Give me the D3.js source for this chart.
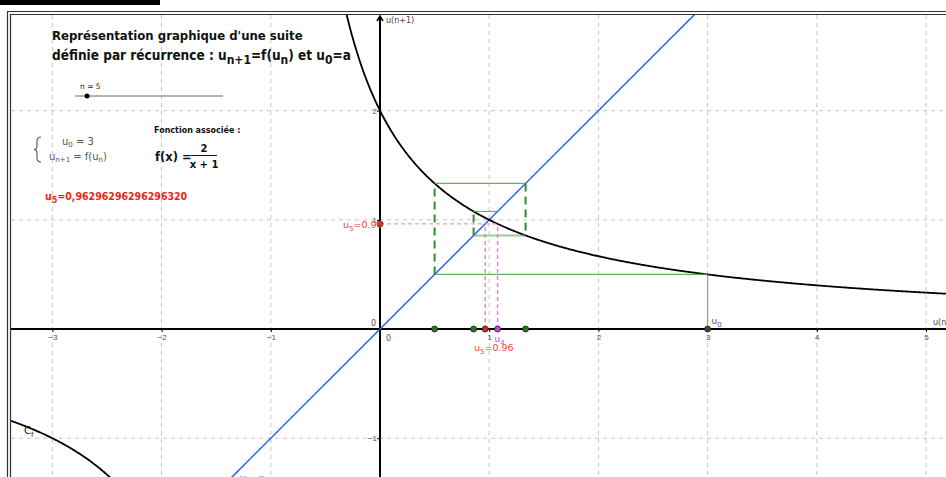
<!DOCTYPE html>
<html>
<head>
<meta charset="utf-8">
<script src="https://cdn.jsdelivr.net/npm/d3@7"></script>
<style>
body { margin: 0; background: #fff; }
svg { display: block; }
</style>
</head>
<body>
<div id="chart"></div>
<script>
// values
const xTicks = [-3, -2, -1, 1, 2, 3, 4, 5];
const yTicks = [-1, 1, 2];
const terms = [3, 0.5, 1.3333, 0.8571, 1.0769, 0.9630]; // u0 .. u5
const termColors = ["#444444", "#1c7c1c", "#1c7c1c", "#1c7c1c", "#cc44cc", "#d8261a"];
const nValue = 5;
const u5Text = "0,96296296296296320";

const width = 946, height = 477;
const f = x => 2 / (x + 1);

const x = d3.scaleLinear().domain([-3.388, 5.183]).range([10, 946]);
const y = d3.scaleLinear().domain([-1.355, 2.885]).range([477, 14]);

const svg = d3.select("#chart").append("svg")
	.attr("width", width)
	.attr("height", height)
	.style("font-family", "'DejaVu Sans', sans-serif");

// top black bar + double frame
svg.append("rect").attr("x", 0).attr("y", 0).attr("width", 160).attr("height", 5).attr("fill", "#000");
svg.append("path").attr("d", "M7.5,477V11.5H946").attr("fill", "none").attr("stroke", "#333").attr("stroke-width", 1.2);
svg.append("path").attr("d", "M10.5,477V14.5H946").attr("fill", "none").attr("stroke", "#333").attr("stroke-width", 1.2);

svg.append("clipPath").attr("id", "clip")
	.append("rect").attr("x", 11).attr("y", 15).attr("width", width - 11).attr("height", height - 15);

const plot = svg.append("g").attr("clip-path", "url(#clip)");

// grid
plot.append("g").selectAll("line").data(xTicks).join("line")
	.attr("x1", d => x(d)).attr("x2", d => x(d))
	.attr("y1", 15).attr("y2", height)
	.attr("stroke", "#c4c4c4").attr("stroke-dasharray", "4,4");
plot.append("g").selectAll("line").data(yTicks).join("line")
	.attr("y1", d => y(d)).attr("y2", d => y(d))
	.attr("x1", 11).attr("x2", width)
	.attr("stroke", "#c4c4c4").attr("stroke-dasharray", "4,4");

// axes
const xAxis = plot.append("g").attr("transform", `translate(0,${y(0)})`)
	.call(d3.axisBottom(x).tickValues(xTicks).tickSize(3).tickSizeOuter(0).tickFormat(d3.format("d")));
const yAxis = plot.append("g").attr("transform", `translate(${x(0)},0)`)
	.call(d3.axisLeft(y).tickValues(yTicks).tickSize(3).tickSizeOuter(0).tickFormat(d3.format("d")));
[xAxis, yAxis].forEach(a => {
	a.select(".domain").attr("stroke", "#000").attr("stroke-width", 2);
	a.selectAll(".tick line").attr("stroke", "#000");
	a.selectAll(".tick text").attr("fill", "#555").style("font-size", "8px");
});
xAxis.selectAll(".tick text").attr("y", 5);
yAxis.selectAll(".tick text").attr("x", -3);
xAxis.select(".domain").attr("d", `M11,0H${width}`);
yAxis.select(".domain").attr("d", `M0,16V${height}`);
// arrow on the vertical axis
plot.append("path").attr("d", `M${x(0) - 3},${21}L${x(0)},${16}L${x(0) + 3},${21}`)
	.attr("fill", "none").attr("stroke", "#000").attr("stroke-width", 1.5);
plot.append("text").attr("x", x(0) + 6).attr("y", 23).text("u(n+1)")
	.style("font-size", "8px").attr("fill", "#444");
plot.append("text").attr("x", 933).attr("y", y(0) - 4).text("u(n)")
	.style("font-size", "8px").attr("fill", "#444");
plot.append("text").attr("x", x(0) + 6).attr("y", y(0) + 12).text("0")
	.style("font-size", "8px").attr("fill", "#555");
plot.append("text").attr("x", x(0) - 9).attr("y", y(0) - 3).text("0")
	.style("font-size", "8px").attr("fill", "#555");

// y = x
plot.append("line")
	.attr("x1", x(-1.5)).attr("y1", y(-1.5)).attr("x2", x(3)).attr("y2", y(3))
	.attr("stroke", "#2a5cff").attr("stroke-width", 1.5);
plot.append("text").attr("x", 240).attr("y", 481).text("y = x")
	.style("font-size", "9px").attr("fill", "#2a5cff");

// curve C_f
const line = d3.line().x(d => x(d)).y(d => y(f(d)));
const right = d3.range(-0.35, 5.3, 0.01);
const left = d3.range(-3.5, -1.7, 0.01);
plot.append("path").attr("d", line(right)).attr("fill", "none").attr("stroke", "#000").attr("stroke-width", 1.8);
plot.append("path").attr("d", line(left)).attr("fill", "none").attr("stroke", "#000").attr("stroke-width", 1.8);
plot.append("text").attr("x", 24).attr("y", 434).style("font-size", "10px").attr("fill", "#222")
	.html('C<tspan font-size="7px" dy="3">f</tspan>');

// cobweb
const cob = plot.append("g").attr("fill", "none");
cob.append("line").attr("x1", x(terms[0])).attr("x2", x(terms[0])).attr("y1", y(0)).attr("y2", y(terms[1]))
	.attr("stroke", "#5aaa5a").attr("stroke-opacity", 0.8).attr("stroke-width", 1.2);
for (let i = 1; i <= 4; i++) {
	// horizontal: (u_{i-1}, u_i) -> (u_i, u_i)
	cob.append("line")
		.attr("x1", x(terms[i - 1])).attr("x2", x(terms[i]))
		.attr("y1", y(terms[i])).attr("y2", y(terms[i]))
		.attr("stroke", "#4aa24a").attr("stroke-opacity", i === 3 ? 0.55 : 0.85)
		.attr("stroke-width", i === 3 ? 2 : 1.2);
	if (i < 4) {
		// vertical dashed: (u_i, u_i) -> (u_i, u_{i+1})
		cob.append("line")
			.attr("x1", x(terms[i])).attr("x2", x(terms[i]))
			.attr("y1", y(terms[i])).attr("y2", y(terms[i + 1]))
			.attr("stroke", "#2f8f2f").attr("stroke-width", 2).attr("stroke-dasharray", "8,5");
	}
}
// last step in pink and red
cob.append("line").attr("x1", x(terms[4])).attr("x2", x(terms[4])).attr("y1", y(0)).attr("y2", y(terms[5]))
	.attr("stroke", "#e080e0").attr("stroke-width", 1.5).attr("stroke-dasharray", "4,3");
cob.append("line").attr("x1", x(terms[5])).attr("x2", x(terms[5])).attr("y1", y(0)).attr("y2", y(terms[5]))
	.attr("stroke", "#e85a50").attr("stroke-width", 1).attr("stroke-dasharray", "4,3");
cob.append("line").attr("x1", x(0)).attr("x2", x(terms[4])).attr("y1", y(terms[5])).attr("y2", y(terms[5]))
	.attr("stroke", "#f08a80").attr("stroke-width", 1).attr("stroke-dasharray", "4,3");

// points on the axis
plot.append("g").selectAll("circle").data(terms).join("circle")
	.attr("cx", d => x(d)).attr("cy", y(0)).attr("r", 3)
	.attr("fill", (d, i) => termColors[i]).attr("stroke", "#222").attr("stroke-width", 0.8);
plot.append("circle").attr("cx", x(0)).attr("cy", y(terms[5])).attr("r", 3)
	.attr("fill", "#d8261a").attr("stroke", "#222").attr("stroke-width", 0.8);

// point labels
plot.append("text").attr("x", x(terms[0]) + 4).attr("y", y(0) - 5).style("font-size", "9px").attr("fill", "#555")
	.html('u<tspan font-size="7px" dy="3">0</tspan>');
plot.append("text").attr("x", x(terms[4]) - 3).attr("y", y(0) + 13).style("font-size", "9px").attr("fill", "#d050d0")
	.html('u<tspan font-size="7px" dy="3">4</tspan>');
plot.append("text").attr("x", 474).attr("y", y(0) + 22).style("font-size", "9.5px").attr("fill", "#e8443a")
	.html('u<tspan font-size="7px" dy="3">5</tspan><tspan dy="-3">=0.96</tspan>');
plot.append("text").attr("x", 343).attr("y", y(terms[5]) + 4).style("font-size", "9.5px").attr("fill", "#e8443a")
	.html('u<tspan font-size="7px" dy="3">5</tspan><tspan dy="-3">=0.96</tspan>');

// title
const title = svg.append("g").style("font-weight", "bold").attr("fill", "#111")
	.style("font-family", "'DejaVu Sans Condensed', 'DejaVu Sans', sans-serif");
title.append("text").attr("x", 52).attr("y", 40).style("font-size", "13px").text("Représentation graphique d'une suite");
title.append("text").attr("x", 52).attr("y", 60).style("font-size", "13.5px")
	.html('définie par récurrence : u<tspan font-size="12px" dy="4">n+1</tspan><tspan dy="-4">=f(u</tspan><tspan font-size="12px" dy="4">n</tspan><tspan dy="-4">) et u</tspan><tspan font-size="12px" dy="4">0</tspan><tspan dy="-4">=a</tspan>');

// slider
svg.append("text").attr("x", 80).attr("y", 89).style("font-size", "7.5px").attr("fill", "#222").text(`n = ${nValue}`);
svg.append("line").attr("x1", 75).attr("x2", 223).attr("y1", 96).attr("y2", 96).attr("stroke", "#666").attr("stroke-width", 1);
svg.append("circle").attr("cx", 87).attr("cy", 96).attr("r", 2.5).attr("fill", "#000");

// system
const sys = svg.append("g").attr("fill", "#555").style("font-size", "10px");
sys.append("path")
	.attr("d", "M41,137 Q37,137 37,141 L37,146 Q37,149.5 34,149.5 Q37,149.5 37,153 L37,158 Q37,162 41,162")
	.attr("fill", "none").attr("stroke", "#555").attr("stroke-width", 1.1);
sys.append("text").attr("x", 62).attr("y", 145)
	.html(`u<tspan font-size="7px" dy="2">0</tspan><tspan dy="-2"> = ${terms[0]}</tspan>`);
sys.append("text").attr("x", 49).attr("y", 160)
	.html('u<tspan font-size="7px" dy="2">n+1</tspan><tspan dy="-2"> = f(u</tspan><tspan font-size="7px" dy="2">n</tspan><tspan dy="-2">)</tspan>');

// associated function
const fn = svg.append("g").attr("fill", "#111").style("font-weight", "bold");
fn.append("text").attr("x", 154).attr("y", 133).style("font-size", "8px").text("Fonction associée :");
fn.append("text").attr("x", 155).attr("y", 161).style("font-size", "11.5px").text("f(x) =");
fn.append("text").attr("x", 204).attr("y", 152).style("font-size", "10px").attr("text-anchor", "middle").text("2");
fn.append("line").attr("x1", 191).attr("x2", 217).attr("y1", 155.5).attr("y2", 155.5).attr("stroke", "#111").attr("stroke-width", 1);
fn.append("text").attr("x", 204).attr("y", 168).style("font-size", "10px").attr("text-anchor", "middle").text("x + 1");

// value of u5
svg.append("text").attr("x", 45).attr("y", 200).style("font-size", "10.5px").style("font-weight", "bold").attr("fill", "#e02a1a")
	.style("font-family", "'DejaVu Sans Condensed', 'DejaVu Sans', sans-serif")
	.html(`u<tspan font-size="9px" dy="3">${nValue}</tspan><tspan dy="-3">=${u5Text}</tspan>`);
</script>
</body>
</html>
